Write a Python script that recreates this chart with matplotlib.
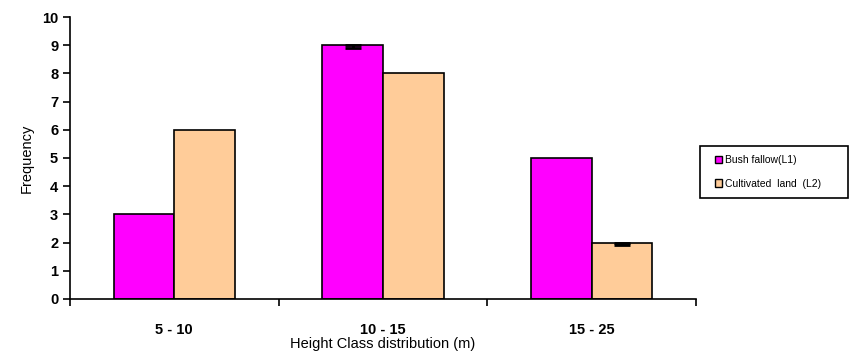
import numpy as np
import matplotlib
matplotlib.use("Agg")
import matplotlib.pyplot as plt
from matplotlib.patches import Patch, Rectangle

categories = ["5 - 10", "10 - 15", "15 - 25"]
bush_fallow = [3, 9, 5]
cultivated = [6, 8, 2]
bush_err = [0, 0.05, 0]
cult_err = [0, 0, 0.05]

plt.rcParams['font.family'] = ['Liberation Sans', 'DejaVu Sans']

fig = plt.figure(figsize=(8.53, 3.58), dpi=100)
ax = fig.add_axes([0.082, 0.165, 0.734, 0.7875])

x = np.arange(len(categories))
w = 0.29
ax.bar(x - w / 2, bush_fallow, w, color='#FF00FF', edgecolor='black', linewidth=1.2)
ax.bar(x + w / 2, cultivated, w, color='#FFCC99', edgecolor='black', linewidth=1.2)
for i in range(len(x)):
    if bush_err[i] > 0:
        ax.errorbar(x[i] - w / 2, bush_fallow[i] - bush_err[i], yerr=bush_err[i],
                    fmt='none', ecolor='black', capsize=6, elinewidth=2, capthick=2)
    if cult_err[i] > 0:
        ax.errorbar(x[i] + w / 2, cultivated[i] - cult_err[i], yerr=cult_err[i],
                    fmt='none', ecolor='black', capsize=6, elinewidth=2, capthick=2)

ax.set_xlim(-0.5, 2.5)
ax.set_ylim(0, 10)
ax.set_yticks(range(0, 11))
ax.set_xticks(x)
ax.set_xticklabels(categories, fontsize=10.5, fontweight='semibold')
ax.set_xticks([-0.5, 0.5, 1.5, 2.5], minor=True)
ax.tick_params(axis='x', which='major', length=0, pad=17)
ax.tick_params(axis='x', which='minor', length=5, direction='out', width=1.2)
ax.tick_params(axis='y', length=5, direction='out', labelsize=10.5, width=1.2)
for lab in ax.get_yticklabels():
    lab.set_fontweight('semibold')
for s in ['top', 'right']:
    ax.spines[s].set_visible(False)
for s in ['left', 'bottom']:
    ax.spines[s].set_linewidth(1.2)
ax.set_xlabel("Height Class distribution (m)", fontsize=10.5, labelpad=0)
ax.set_ylabel("Frequency", fontsize=10.5, labelpad=6)

# legend frame drawn separately so the entries can sit inset like the original
fig.patches.append(Rectangle((0.821, 0.447), 0.173, 0.145, transform=fig.transFigure,
                             facecolor='white', edgecolor='black', linewidth=1.2, zorder=0))
handles = [Patch(facecolor='#FF00FF', edgecolor='black', label='Bush fallow(L1)'),
           Patch(facecolor='#FFCC99', edgecolor='black', label='Cultivated  land  (L2)')]
leg = fig.legend(handles=handles, loc='center left', bbox_to_anchor=(0.838, 0.52),
                 fontsize=7.5, frameon=False,
                 handlelength=0.7, handleheight=0.7, labelspacing=1.3,
                 borderpad=0, handletextpad=0.3, borderaxespad=0)

fig.savefig("out.png", dpi=100)
